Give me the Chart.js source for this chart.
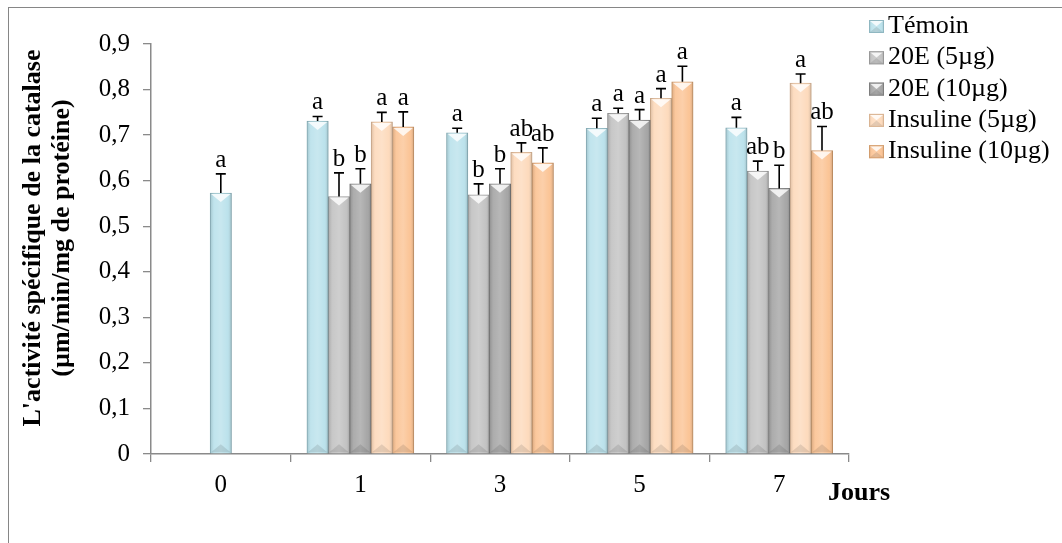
<!DOCTYPE html>
<html>
<head>
<meta charset="utf-8">
<script src="https://cdn.jsdelivr.net/npm/chart.js@4.4.1/dist/chart.umd.min.js"></script>
<style>
  html, body { margin: 0; padding: 0; background: #ffffff; }
  #wrap { width: 1062px; height: 543px; position: relative; }
</style>
</head>
<body>
<div id="wrap"><canvas id="c" width="1062" height="543"></canvas></div>
<script>
// Days of treatment
const days = ['0', '1', '3', '5', '7'];

// Catalase specific activity (µm/min/mg de protéine), mean and SEM per group
const temoin       = [0.573, 0.731, 0.705, 0.715, 0.716];
const temoinErr    = [0.042, 0.010, 0.010, 0.022, 0.023];
const e20_5        = [null, 0.565, 0.569, 0.748, 0.621];
const e20_5Err     = [null, 0.052, 0.024, 0.011, 0.022];
const e20_10       = [null, 0.593, 0.593, 0.733, 0.583];
const e20_10Err    = [null, 0.033, 0.033, 0.023, 0.051];
const insul5       = [null, 0.729, 0.662, 0.781, 0.814];
const insul5Err    = [null, 0.021, 0.021, 0.021, 0.020];
const insul10      = [null, 0.718, 0.639, 0.817, 0.666];
const insul10Err   = [null, 0.033, 0.033, 0.034, 0.053];

// Significance letters
const temoinSig  = ['a', 'a', 'a', 'a', 'a'];
const e20_5Sig   = [null, 'b', 'b', 'a', 'ab'];
const e20_10Sig  = [null, 'b', 'b', 'a', 'b'];
const insul5Sig  = [null, 'a', 'ab', 'a', 'a'];
const insul10Sig = [null, 'a', 'ab', 'a', 'ab'];

// Y axis ticks
const yTicks = [0, 0.1, 0.2, 0.3, 0.4, 0.5, 0.6, 0.7, 0.8, 0.9];

const seriesNames = ['Témoin', '20E (5µg)', '20E (10µg)', 'Insuline (5µg)', 'Insuline (10µg)'];
const seriesValues = [temoin, e20_5, e20_10, insul5, insul10];
const seriesErrors = [temoinErr, e20_5Err, e20_10Err, insul5Err, insul10Err];
const seriesSig = [temoinSig, e20_5Sig, e20_10Sig, insul5Sig, insul10Sig];

const fills   = ['#b9e1eb', '#c1c1c1', '#a3a3a3', '#fdd9ba', '#fbc292'];
const borders = ['#8fb7c1', '#989898', '#7e7e7e', '#d9b493', '#d29d6e'];

const SERIF = "'Liberation Serif', 'Times New Roman', serif";
const AXIS_GREY = '#8a8a8a';

// Bevel shading on a rectangle (lighter middle, darker edges, light top chevron, dark bottom chevron)
function bevel(ctx, left, top, w, h) {
  const g = ctx.createLinearGradient(left, 0, left + w, 0);
  g.addColorStop(0, 'rgba(0,0,0,0.13)');
  g.addColorStop(0.18, 'rgba(255,255,255,0.10)');
  g.addColorStop(0.5, 'rgba(255,255,255,0.22)');
  g.addColorStop(0.82, 'rgba(255,255,255,0.04)');
  g.addColorStop(1, 'rgba(0,0,0,0.18)');
  ctx.fillStyle = g;
  ctx.fillRect(left, top, w, h);
  const d = Math.min(w * 0.42, h / 2);
  ctx.beginPath();
  ctx.moveTo(left + 1, top + 1);
  ctx.lineTo(left + w - 1, top + 1);
  ctx.lineTo(left + w / 2, top + d);
  ctx.closePath();
  ctx.fillStyle = 'rgba(255,255,255,0.8)';
  ctx.fill();
  ctx.beginPath();
  ctx.moveTo(left + 1, top + h - 1);
  ctx.lineTo(left + w - 1, top + h - 1);
  ctx.lineTo(left + w / 2, top + h - d);
  ctx.closePath();
  ctx.fillStyle = 'rgba(0,0,0,0.10)';
  ctx.fill();
}

const decorations = {
  id: 'decorations',
  beforeDraw(chart) {
    const ctx = chart.ctx;
    ctx.save();
    ctx.fillStyle = '#ffffff';
    ctx.fillRect(0, 0, chart.width, chart.height);
    ctx.strokeStyle = '#868686';
    ctx.lineWidth = 1;
    ctx.strokeRect(8.5, 7.5, chart.width + 20, chart.height + 20);
    ctx.restore();
  },
  afterDatasetsDraw(chart) {
    const ctx = chart.ctx;
    const yScale = chart.scales.y;
    ctx.save();
    chart.data.datasets.forEach((ds, di) => {
      const meta = chart.getDatasetMeta(di);
      meta.data.forEach((bar, i) => {
        const v = ds.data[i];
        if (v === null || v === undefined) return;
        const p = bar.getProps(['x', 'y', 'base', 'width'], true);
        const left = p.x - p.width / 2;
        bevel(ctx, left, p.y, p.width, p.base - p.y);
      });
    });
    // error bars (upper) and significance letters
    chart.data.datasets.forEach((ds, di) => {
      const meta = chart.getDatasetMeta(di);
      meta.data.forEach((bar, i) => {
        const v = ds.data[i];
        if (v === null || v === undefined) return;
        const p = bar.getProps(['x', 'y'], true);
        const top = yScale.getPixelForValue(v + seriesErrors[di][i]);
        ctx.strokeStyle = '#000000';
        ctx.lineWidth = 1.6;
        ctx.beginPath();
        ctx.moveTo(p.x, p.y);
        ctx.lineTo(p.x, top);
        ctx.moveTo(p.x - 5, top);
        ctx.lineTo(p.x + 5, top);
        ctx.stroke();
        const s = seriesSig[di][i];
        if (s) {
          ctx.fillStyle = '#000000';
          ctx.font = '25px ' + SERIF;
          ctx.textAlign = 'center';
          ctx.textBaseline = 'alphabetic';
          ctx.fillText(s, p.x, top - 7);
        }
      });
    });
    ctx.restore();
  },
  afterDraw(chart) {
    const ctx = chart.ctx;
    ctx.save();
    // y axis title
    ctx.fillStyle = '#000000';
    ctx.font = 'bold 26px ' + SERIF;
    ctx.textAlign = 'center';
    ctx.textBaseline = 'middle';
    ctx.translate(0, 238);
    ctx.rotate(-Math.PI / 2);
    ctx.fillText("L'activité spécifique de la catalase", 0, 33);
    ctx.fillText('(µm/min/mg de protéine)', 0, 62);
    ctx.restore();

    ctx.save();
    ctx.fillStyle = '#000000';
    ctx.font = 'bold 26px ' + SERIF;
    ctx.textAlign = 'left';
    ctx.textBaseline = 'alphabetic';
    ctx.fillText('Jours', 828, 500);

    // legend
    chart.data.datasets.forEach((ds, di) => {
      const base = 33 + di * 31.3;
      const bx = 869, by = base - 13, bw = 15, bh = 13;
      ctx.fillStyle = ds.backgroundColor;
      ctx.fillRect(bx, by, bw, bh);
      bevel(ctx, bx, by, bw, bh);
      ctx.strokeStyle = ds.borderColor;
      ctx.lineWidth = 1;
      ctx.strokeRect(bx + 0.5, by + 0.5, bw - 1, bh - 1);
      ctx.fillStyle = '#000000';
      ctx.font = '26px ' + SERIF;
      ctx.textAlign = 'left';
      ctx.textBaseline = 'alphabetic';
      ctx.fillText(ds.label, 888, base);
    });
    ctx.restore();
  }
};

const datasets = seriesNames.map((name, i) => ({
  label: name,
  data: seriesValues[i],
  backgroundColor: fills[i],
  borderColor: borders[i],
  borderWidth: 1,
  barThickness: 21.4,
  skipNull: true
}));

new Chart(document.getElementById('c'), {
  type: 'bar',
  data: { labels: days, datasets },
  options: {
    responsive: false,
    animation: false,
    devicePixelRatio: 1,
    layout: { padding: { top: 44, right: 213, bottom: 0, left: 0 } },
    plugins: {
      legend: { display: false },
      tooltip: { enabled: false }
    },
    scales: {
      x: {
        offset: true,
        grid: { offset: true, drawOnChartArea: false, drawTicks: true, tickLength: 8, color: AXIS_GREY, lineWidth: 1.3 },
        border: { display: true, color: AXIS_GREY, width: 1.5 },
        ticks: { color: '#000000', font: { family: SERIF, size: 25 }, padding: 8, maxRotation: 0 },
        afterFit(scale) { scale.height = 89; }
      },
      y: {
        min: 0,
        max: 0.9,
        afterBuildTicks(scale) { scale.ticks = yTicks.map(v => ({ value: v })); },
        grid: { drawOnChartArea: false, drawTicks: true, tickLength: 8, color: AXIS_GREY, lineWidth: 1.3 },
        border: { display: true, color: AXIS_GREY, width: 1.5 },
        ticks: {
          color: '#000000',
          font: { family: SERIF, size: 25 },
          padding: 13,
          callback: v => (v === 0 ? '0' : Number(v).toFixed(1).replace('.', ','))
        },
        afterFit(scale) { scale.width = 151; }
      }
    }
  },
  plugins: [decorations]
});
</script>
</body>
</html>
